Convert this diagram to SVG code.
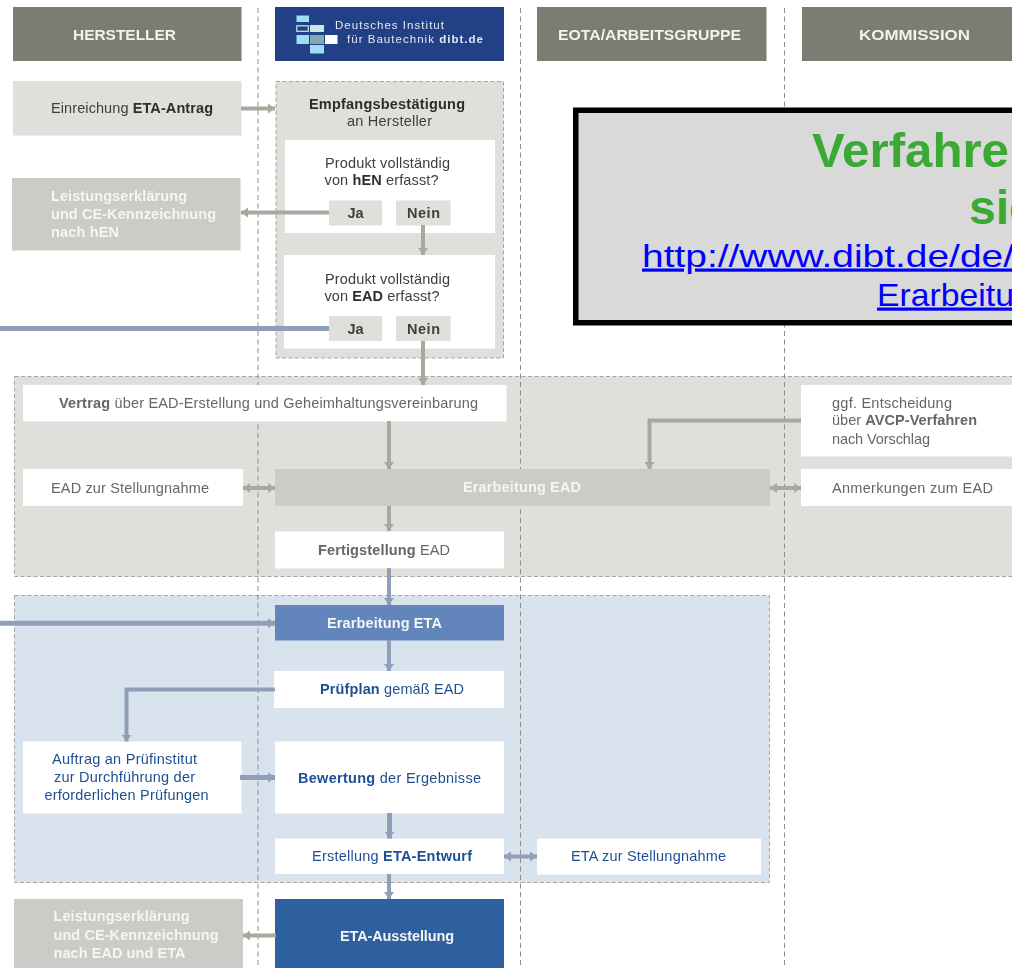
<svg xmlns="http://www.w3.org/2000/svg" width="1012" height="968" viewBox="0 0 1012 968">
<style>
text{font-family:"Liberation Sans",Arial,sans-serif;font-size:14.500px;fill:#67665f}
.b{font-weight:700}
.hd{fill:#7b7b73}
.hdt{fill:#f2f2ee;font-size:15.500px;font-weight:700;stroke:none}
.dk{fill:#3f3f38}
.dk .b{fill:#2e2e28}
.wh{fill:#fff}
.lt{fill:#e0dfdb}
.md{fill:#cbccc7}
.whb{fill:#f5f5f2;font-weight:700}
.bl{fill:#1f4f93}
.grp{stroke:#a5a49e;stroke-width:1;stroke-dasharray:4 2.500}
.sep{stroke:#8f8f8a;stroke-width:1;stroke-dasharray:5 3.500;fill:none}
.g{fill:none;stroke:#a8a89f;stroke-width:4}
.u{fill:none;stroke:#8f9fb8;stroke-width:4}
.t5{stroke-width:5}
.ov{font-size:32px;fill:#0000ff;text-decoration:underline}
.vf{font-size:48px;font-weight:700;fill:#3aaa35}
.lg{font-size:11.500px;fill:#e4e9f2}
</style>
<defs>
<filter id="soft" x="0" y="0" width="100%" height="100%"><feGaussianBlur stdDeviation="0.400"/></filter>
<marker id="ga" markerUnits="userSpaceOnUse" markerWidth="8" markerHeight="12" refX="7" refY="5" orient="auto-start-reverse" viewBox="0 0 8 10"><path d="M0 0 7 5 0 10Z" fill="#a8a89f"/></marker>
<marker id="ua" markerUnits="userSpaceOnUse" markerWidth="8" markerHeight="12" refX="7" refY="5" orient="auto-start-reverse" viewBox="0 0 8 10"><path d="M0 0 7 5 0 10Z" fill="#8f9fb8"/></marker>
</defs>
<rect width="1012" height="968" fill="#fff"/>
<g id="chart" filter="url(#soft)">
<g id="groups">
<rect id="group-ead" class="lt grp" x="14.500" y="376.500" width="1010" height="200"/>
<rect id="group-eta" x="14.500" y="595.500" width="755" height="287" fill="#d9e3ee" class="grp"/>
</g>
<g id="separators">
<path class="sep" d="M258 8V968M520.500 8V968M784.500 8V968"/>
</g>
<g id="hersteller-head"><rect class="hd" x="13" y="7" width="228.500" height="54"/><text class="hdt" x="73" y="40" textLength="103" lengthAdjust="spacingAndGlyphs">HERSTELLER</text></g>
<g id="dibt-head"><rect x="275" y="7" width="229" height="54" fill="#233f85"/>
<rect x="296.500" y="15.500" width="12.500" height="6.500" fill="#9fdcf5"/>
<rect x="296.800" y="25.800" width="11.500" height="5.500" fill="none" stroke="#b9dcea" stroke-width="1.300"/>
<rect x="310" y="25" width="14" height="7" fill="#cfe7e6"/>
<rect x="296.500" y="35" width="12.500" height="9" fill="#9fdcf5"/>
<rect x="310" y="35" width="14" height="9" fill="#7fabb0"/>
<rect x="325" y="35" width="12.500" height="9" fill="#fff"/>
<rect x="310" y="45" width="14" height="8.500" fill="#9fdcf5"/>
<text class="lg" x="335" y="29" textLength="109">Deutsches Institut</text>
<text class="lg" x="347" y="42.500" textLength="136">für Bautechnik <tspan class="b">dibt.de</tspan></text></g>
<g id="eota-head"><rect class="hd" x="537" y="7" width="229.500" height="54"/><text class="hdt" x="558" y="40" textLength="183" lengthAdjust="spacingAndGlyphs">EOTA/ARBEITSGRUPPE</text></g>
<g id="kommission-head"><rect class="hd" x="802" y="7" width="215" height="54"/><text class="hdt" x="859" y="40" textLength="111" lengthAdjust="spacingAndGlyphs">KOMMISSION</text></g>

<g id="einreichung"><rect class="lt" x="13" y="81" width="228.500" height="54.500"/><text class="dk" x="51" y="113" textLength="162">Einreichung <tspan class="b">ETA-Antrag</tspan></text></g>
<g id="empfang"><rect class="lt grp" x="276" y="81.500" width="227.500" height="276.500"/>
<text class="dk" x="309" y="109" textLength="156"><tspan class="b">Empfangsbestätigung</tspan></text><text class="dk" x="347" y="126" textLength="85">an Hersteller</text></g>
<g id="frage-hen"><rect class="wh" x="285" y="140" width="210" height="93"/>
<text class="dk" x="325" y="168" textLength="125">Produkt vollständig</text><text class="dk" x="324.500" y="185" textLength="114">von <tspan class="b">hEN</tspan> erfasst?</text></g>
<g id="hen-ja"><rect class="lt" x="329" y="200.500" width="53" height="25"/><text class="dk b" x="347.500" y="218" textLength="16">Ja</text></g>
<g id="hen-nein"><rect class="lt" x="396" y="200.500" width="54.500" height="25"/><text class="dk b" x="407" y="218" textLength="33">Nein</text></g>
<g id="frage-ead"><rect class="wh" x="284" y="255" width="211" height="93.500"/>
<text class="dk" x="325" y="284" textLength="125">Produkt vollständig</text><text class="dk" x="324.500" y="301" textLength="115">von <tspan class="b">EAD</tspan> erfasst?</text></g>
<g id="ead-ja"><rect class="lt" x="329" y="316" width="53" height="25"/><text class="dk b" x="347.500" y="334" textLength="16">Ja</text></g>
<g id="ead-nein"><rect class="lt" x="396" y="316" width="54.500" height="25"/><text class="dk b" x="407" y="334" textLength="33">Nein</text></g>
<g id="leistung-hen"><rect class="md" x="12" y="178" width="228.500" height="72.500"/>
<text class="whb" x="51" y="200.500" textLength="136">Leistungserklärung</text><text class="whb" x="51" y="219" textLength="165">und CE-Kennzeichnung</text><text class="whb" x="51" y="236.500" textLength="68">nach hEN</text></g>

<g id="vertrag"><rect class="wh" x="23" y="385" width="483.500" height="36.500"/><text x="59" y="408" textLength="419"><tspan class="b">Vertrag</tspan> über EAD-Erstellung und Geheimhaltungsvereinbarung</text></g>
<g id="ead-stellungnahme"><rect class="wh" x="23" y="469" width="220" height="37"/><text x="51" y="493" textLength="158">EAD zur Stellungnahme</text></g>
<g id="erarbeitung-ead"><rect class="md" x="275" y="469" width="495" height="37"/><text class="whb" x="463" y="492" textLength="118">Erarbeitung EAD</text></g>
<g id="fertigstellung"><rect class="wh" x="275" y="531.500" width="229" height="37"/><text x="318" y="555" textLength="132"><tspan class="b">Fertigstellung</tspan> EAD</text></g>
<g id="avcp"><rect class="wh" x="801" y="385" width="215" height="71.500"/>
<text x="832" y="408" textLength="120">ggf. Entscheidung</text><text x="832" y="425" textLength="145">über <tspan class="b">AVCP-Verfahren</tspan></text><text x="832" y="444" textLength="98">nach Vorschlag</text></g>
<g id="anmerkungen"><rect class="wh" x="801" y="469" width="215" height="37"/><text x="832" y="493" textLength="161">Anmerkungen zum EAD</text></g>

<g id="erarbeitung-eta"><rect x="275" y="605" width="229" height="35.500" fill="#6285bc"/><text class="whb" x="327" y="628" textLength="115">Erarbeitung ETA</text></g>
<g id="pruefplan"><rect class="wh" x="274" y="671" width="230" height="37"/><text class="bl" x="320" y="694" textLength="144"><tspan class="b">Prüfplan</tspan> gemäß EAD</text></g>
<g id="auftrag"><rect class="wh" x="23" y="741.500" width="218.500" height="72"/>
<text class="bl" x="52" y="764" textLength="145">Auftrag an Prüfinstitut</text><text class="bl" x="54" y="781.500" textLength="141">zur Durchführung der</text><text class="bl" x="44.500" y="800" textLength="164">erforderlichen Prüfungen</text></g>
<g id="bewertung"><rect class="wh" x="275" y="741.500" width="229" height="72"/><text class="bl" x="298" y="783" textLength="183"><tspan class="b">Bewertung</tspan> der Ergebnisse</text></g>
<g id="entwurf"><rect class="wh" x="275" y="838.500" width="229" height="35.500"/><text class="bl" x="312" y="860.500" textLength="160">Erstellung <tspan class="b">ETA-Entwurf</tspan></text></g>
<g id="eta-stellungnahme"><rect class="wh" x="537" y="838.500" width="224" height="36"/><text class="bl" x="571" y="860.500" textLength="155">ETA zur Stellungnahme</text></g>
<g id="ausstellung"><rect x="275" y="899" width="229" height="69" fill="#2e5e9f"/><text class="whb" x="340" y="941" textLength="114">ETA-Ausstellung</text></g>
<g id="leistung-eta"><rect class="md" x="14" y="899" width="229" height="69"/>
<text class="whb" x="53.500" y="921" textLength="136">Leistungserklärung</text><text class="whb" x="53.500" y="940" textLength="165">und CE-Kennzeichnung</text><text class="whb" x="53.500" y="958" textLength="132">nach EAD und ETA</text></g>

<g id="connectors">
<path class="g" d="M241 108.500H275" marker-end="url(#ga)"/>
<path class="g" d="M329 212.500H241" marker-end="url(#ga)"/>
<path class="g" d="M423 225V255" marker-end="url(#ga)"/>
<path class="g" d="M423 341V385" marker-end="url(#ga)"/>
<path class="u t5" d="M0 328.500H329"/>
<path class="g" d="M389 421V469" marker-end="url(#ga)"/>
<path class="g" d="M801 420.500H649.500V469" marker-end="url(#ga)"/>
<path class="g" d="M243 488H275" marker-start="url(#ga)" marker-end="url(#ga)"/>
<path class="g" d="M770 488H801" marker-start="url(#ga)" marker-end="url(#ga)"/>
<path class="g" d="M389 506V531" marker-end="url(#ga)"/>
<path class="u" d="M389 568V605" marker-end="url(#ua)"/>
<path class="u t5" d="M0 623.300H275" marker-end="url(#ua)"/>
<path class="u" d="M389 640V671" marker-end="url(#ua)"/>
<path class="u" d="M275 689.500H126.500V741.500" marker-end="url(#ua)"/>
<path class="u t5" d="M240 777.500H275" marker-end="url(#ua)"/>
<path class="u t5" d="M389.500 813V838.500" marker-end="url(#ua)"/>
<path class="u" d="M504 856.500H537" marker-start="url(#ua)" marker-end="url(#ua)"/>
<path class="u" d="M389 874V899" marker-end="url(#ua)"/>
<path class="g" d="M276 935.500H243" marker-end="url(#ga)"/>
</g>
</g>

<g id="hinweis"><rect x="575.750" y="110.250" width="450" height="212.500" fill="#d9d9d9" stroke="#000" stroke-width="5.500"/>
<text class="vf" x="812" y="167" textLength="197" lengthAdjust="spacingAndGlyphs">Verfahre</text><text class="vf" x="969" y="224">sie</text>
<text class="ov" x="642" y="266.500" textLength="372" lengthAdjust="spacingAndGlyphs">http://www.dibt.de/de/</text><text class="ov" x="877" y="305.500" textLength="137" lengthAdjust="spacingAndGlyphs">Erarbeitu</text></g>
</svg>
